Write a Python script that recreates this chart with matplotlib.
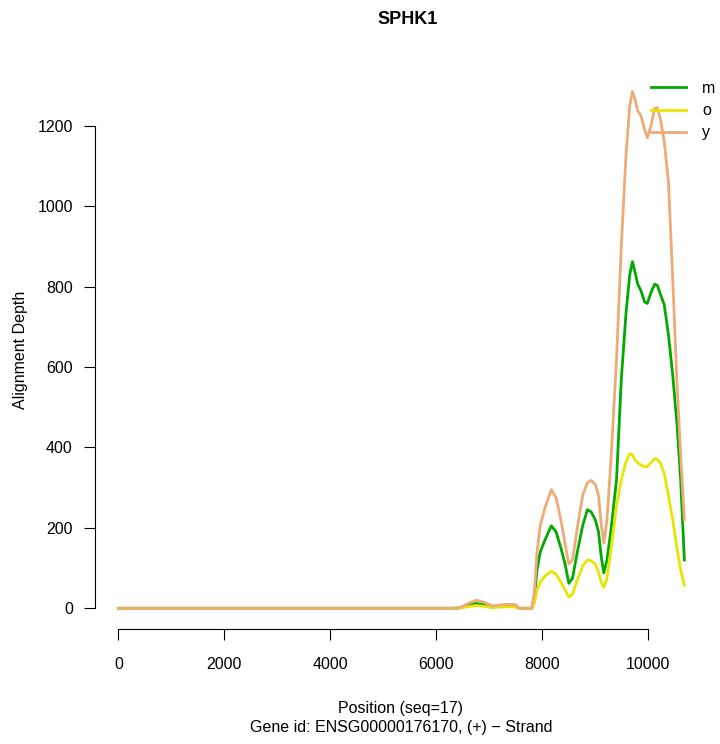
import matplotlib
matplotlib.use("Agg")
import matplotlib.pyplot as plt

plt.rcParams['font.family'] = ['Liberation Sans', 'DejaVu Sans']

position = [0, 6300, 6450, 6600, 6750, 6900, 7050, 7200, 7350, 7500,
            7560, 7800, 7850, 7900, 7960, 8050, 8170, 8260, 8350, 8430,
            8500, 8570, 8660, 8760, 8850, 8920, 9000, 9060, 9110, 9160,
            9220, 9300, 9400, 9490, 9580, 9650, 9700, 9750, 9800, 9860,
            9930, 9980, 10050, 10120, 10170, 10230, 10300, 10380, 10460, 10540,
            10610, 10680]
depth_m = [0, 0, 1, 7, 12, 9, 3, 5, 6, 5,
           0, 0, 25, 95, 140, 170, 205, 190, 150, 110,
           62, 75, 140, 205, 245, 240, 220, 190, 130, 88,
           120, 200, 320, 569, 736, 830, 862, 835, 806, 790,
           762, 758, 785, 806, 803, 780, 755, 680, 580, 460,
           320, 120]
depth_o = [0, 0, 1, 4, 7, 5, 2, 3, 4, 3,
           0, 0, 12, 45, 65, 80, 92, 85, 65, 45,
           28, 35, 70, 105, 120, 118, 110, 90, 65, 52,
           75, 150, 255, 320, 365, 384, 382, 368, 362, 356,
           352, 352, 362, 372, 370, 360, 335, 280, 220, 150,
           95, 58]
depth_y = [0, 0, 2, 12, 20, 15, 6, 8, 10, 9,
           0, 0, 40, 140, 205, 250, 295, 275, 220, 160,
           110, 120, 200, 280, 312, 318, 308, 280, 210, 162,
           220, 380, 620, 900, 1130, 1250, 1285, 1265, 1237, 1225,
           1190, 1170, 1200, 1243, 1245, 1215, 1160, 1060, 820, 560,
           380, 220]

series = [("m", depth_m, "#00AA00"), ("o", depth_o, "#E6E600"), ("y", depth_y, "#EEAA78")]
xticks = [0, 2000, 4000, 6000, 8000, 10000]
yticks = [0, 200, 400, 600, 800, 1000, 1200]

fig = plt.figure(figsize=(7.2, 7.44), dpi=100)
ax = fig.add_axes([95/720, 1-629/744, (707-95)/720, (629-71)/744])
for name, vals, col in series:
    ax.plot(position, vals, color=col, lw=2, label=name, solid_joinstyle='round')

ax.set_xlim(-440, 11107)
ax.set_ylim(-51.5, 1336)
for s in ['top', 'right']:
    ax.spines[s].set_visible(False)
ax.spines['left'].set_bounds(0, 1200)
ax.spines['bottom'].set_bounds(0, 10000)
ax.set_xticks(xticks)
ax.set_yticks(yticks)
ax.tick_params(direction='out', length=8, labelsize=11.5)
ax.tick_params(axis='x', pad=12)
ax.tick_params(axis='y', pad=8)
ax.set_xlabel("Position (seq=17)\nGene id: ENSG00000176170, (+) \u2212 Strand", fontsize=11.5,
              labelpad=21, linespacing=1.3)
ax.set_ylabel("Alignment Depth", fontsize=11.5, labelpad=7)
fig.text(408/720, 1-20/744, "SPHK1", ha='center', va='center', fontsize=13, fontweight='bold')

leg = ax.legend(loc='upper left', bbox_to_anchor=(651/720, 1-81/744), bbox_transform=fig.transFigure,
                frameon=False, fontsize=11.5, handlelength=2.2, handletextpad=1.0,
                labelspacing=0.45, borderpad=0, borderaxespad=0)
fig.savefig("out.png", dpi=100)
